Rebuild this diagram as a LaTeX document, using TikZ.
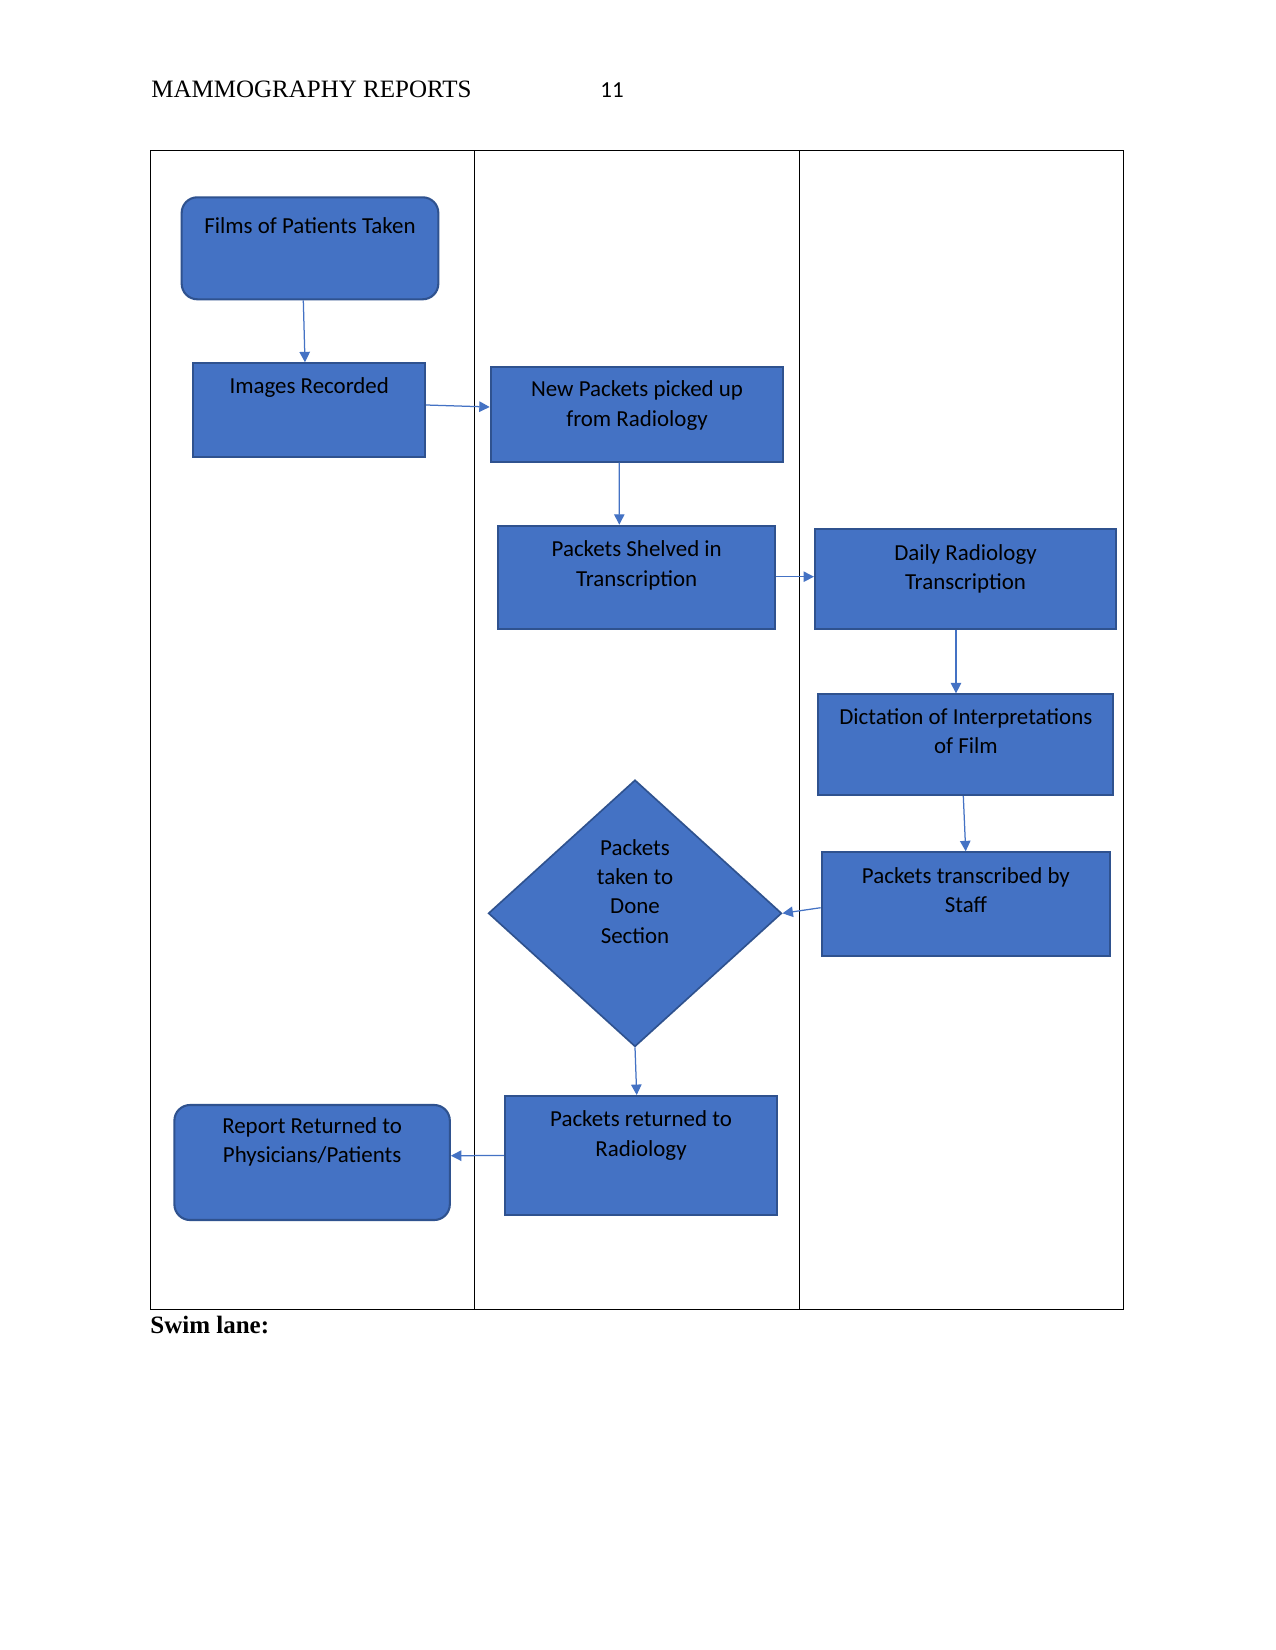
\documentclass[tikz,border=0pt]{standalone}
\usepackage{fontspec}
\setmainfont{Liberation Serif}
\newfontfamily\boxfont{Carlito}
\usetikzlibrary{shapes.geometric,arrows.meta,calc}
\definecolor{bfill}{HTML}{4472C4}
\definecolor{bdraw}{HTML}{2F528F}
\definecolor{arr}{HTML}{4472C4}
\tikzset{
  procbox/.style={rectangle,draw=bdraw,fill=bfill,line width=1pt,inner sep=0pt},
  roundbox/.style={procbox,rounded corners=7.5pt},
  decbox/.style={diamond,draw=bdraw,fill=bfill,line width=0.8pt,inner sep=0pt},
  boxtext/.style={anchor=base,inner sep=0pt,text width=150pt,align=flush center,
    font=\boxfont\fontsize{11}{14.1}\selectfont,text=black},
  flow/.style={draw=arr,line width=0.6pt,-{Triangle[length=5pt,width=5pt]}},
  lane/.style={draw=black,line width=0.75pt},
}
\begin{document}
\begin{tikzpicture}[x=0.48pt,y=-0.48pt]
\useasboundingbox[fill=white] (0,0) rectangle (1275,1650);
% header
\node[anchor=base west,inner sep=0pt,font=\fontsize{12}{14}\selectfont] (hdr) at (151,98) {MAMMOGRAPHY REPORTS};
\node[anchor=base west,inner sep=0pt,font=\boxfont\fontsize{11}{14}\selectfont] (pg) at (600,98) {11};
% swim lanes
\draw[lane] (150.4,150.4) rectangle (1123.4,1309.7);
\draw[lane] (474.4,150.4) -- (474.4,1309.7);
\draw[lane] (799.5,150.4) -- (799.5,1309.7);
\node[anchor=base west,inner sep=0pt,font=\bfseries\fontsize{12}{14}\selectfont] (swim) at (150,1333.5) {Swim lane:};
% boxes
\node[roundbox,minimum width=123.2pt,minimum height=48.96pt] (films) at (310,248.3) {};
\node[procbox,minimum width=111.2pt,minimum height=44.8pt] (images) at (309.2,410) {};
\node[procbox,minimum width=140.4pt,minimum height=45.3pt] (newp) at (637,414.5) {};
\node[procbox,minimum width=132.8pt,minimum height=49.7pt] (shelved) at (636.7,577.5) {};
\node[procbox,minimum width=144.5pt,minimum height=48pt] (daily) at (965.5,579) {};
\node[procbox,minimum width=141.6pt,minimum height=48.3pt] (dict) at (965.8,744.7) {};
\node[procbox,minimum width=138.4pt,minimum height=49.8pt] (transc) at (965.9,904.2) {};
\node[decbox,minimum width=140.8pt,minimum height=128pt] (done) at (635,913.3) {};
\node[procbox,minimum width=130.7pt,minimum height=57.1pt] (returned) at (641,1155.5) {};
\node[roundbox,minimum width=132.2pt,minimum height=55.2pt] (report) at (312.1,1162.5) {};
% texts
\node[boxtext] (tfilms) at (310,234) {Films of Patients Taken};
\node[boxtext] (timages) at (309.2,393.3) {Images Recorded};
\node[boxtext] (tnewp) at (637,396.7) {New Packets picked up\\from Radiology};
\node[boxtext] (tshelved) at (636.7,556.7) {Packets Shelved in\\Transcription};
\node[boxtext] (tdaily) at (965.5,560) {Daily Radiology\\Transcription};
\node[boxtext] (tdict) at (965.8,724) {Dictation of Interpretations\\of Film};
\node[boxtext] (ttransc) at (965.9,883.3) {Packets transcribed by\\Staff};
\node[boxtext] (tdone) at (635,855) {Packets\\taken to\\Done\\Section};
\node[boxtext] (treturned) at (641,1126.7) {Packets returned to\\Radiology};
\node[boxtext] (treport) at (312.1,1133.3) {Report Returned to\\Physicians/Patients};
% connectors
\draw[flow] ($(films.south)+(-6.7,0)$) -- ($(images.north)+(-4.2,0)$);
\draw[flow] ($(images.east)+(0,-5)$) -- ($(newp.west)+(0,-7.5)$);
\draw[flow] ($(newp.south)+(-17.7,0)$) -- ($(shelved.north)+(-17.4,0)$);
\draw[flow] ($(shelved.east)+(0,-0.8)$) -- ($(daily.west)+(0,-2.3)$);
\draw[flow] ($(daily.south)+(-9.5,0)$) -- ($(dict.north)+(-9.8,0)$);
\draw[flow] ($(dict.south)+(-2.5,0)$) -- ($(transc.north)+(-0.2,0)$);
\draw[flow] ($(transc.west)+(0,3.5)$) -- (done.east);
\draw[flow] (done.south) -- ($(returned.north)+(-4.3,0)$);
\draw[flow] (returned.west) -- ($(report.east)+(0,-6.8)$);
\end{tikzpicture}
\end{document}
